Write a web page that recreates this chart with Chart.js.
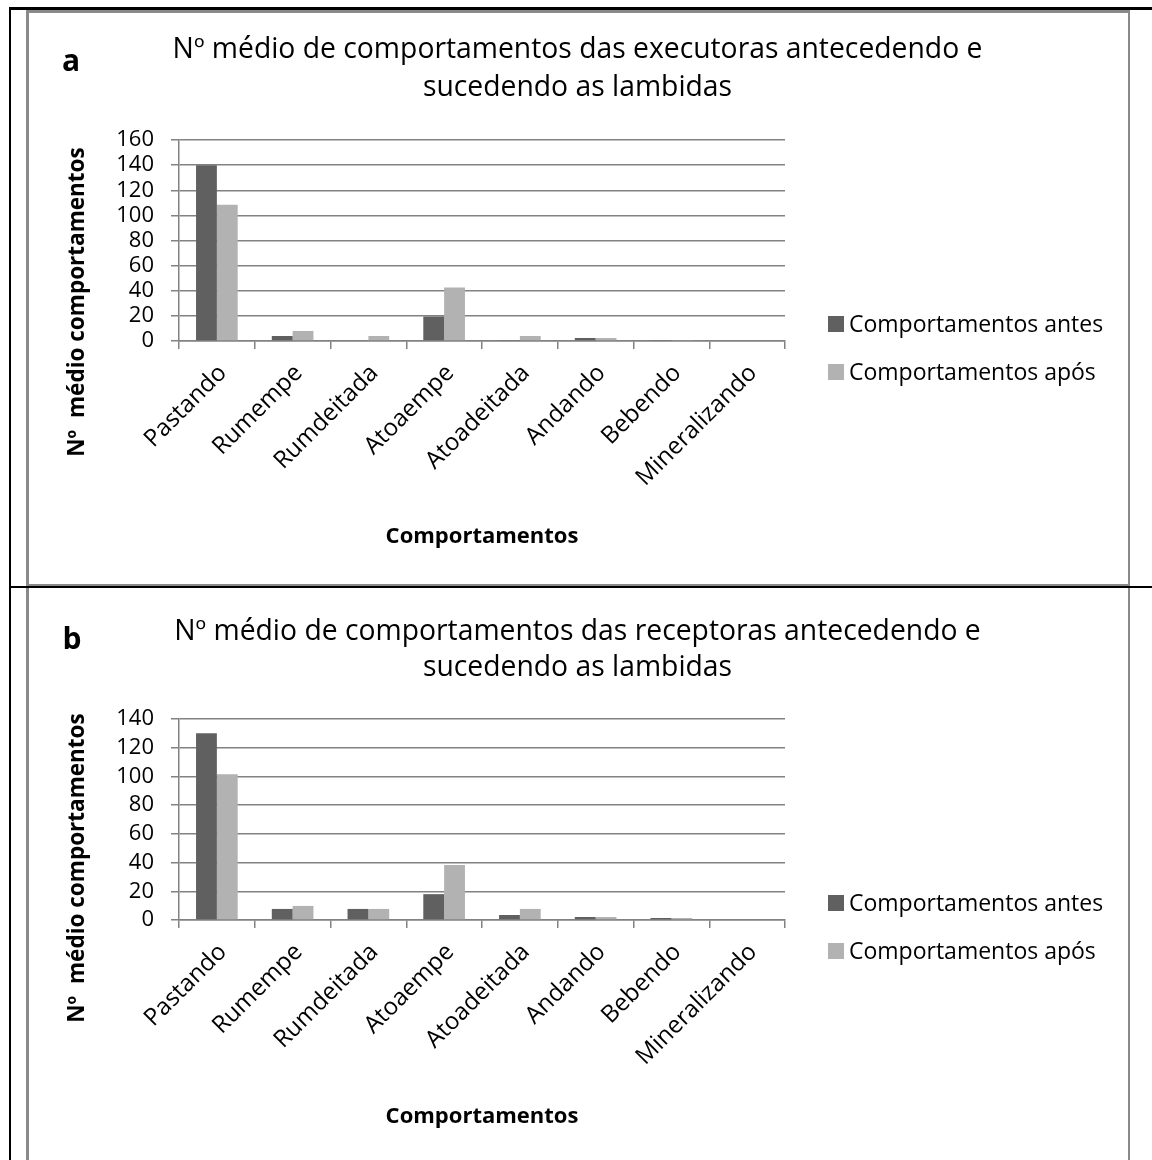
<!DOCTYPE html>
<html lang="pt">
<head>
<meta charset="utf-8">
<title>Nº médio de comportamentos antecedendo e sucedendo as lambidas</title>
<script src="https://cdn.jsdelivr.net/npm/chart.js@4/dist/chart.umd.min.js"></script>
<style>
    body { margin: 0; background: #fff; }
    #page { position: relative; width: 1152px; height: 1160px; overflow: hidden; background: #fff; }
    .rule { position: absolute; background: #000; }
    .box { position: absolute; box-sizing: border-box; border: 0 solid #8a8a8a; }
    .box canvas { position: absolute; left: 0; top: 0; }
</style>
</head>
<body>
<div id="page">
    <div class="box" style="left:26px; top:10px; width:1104px; height:576px; border-width:3px 2px 2px 3px;">
        <canvas id="chartA" width="1099" height="571"></canvas>
    </div>
    <div class="box" style="left:26px; top:588px; width:1104px; height:572px; border-width:0 2px 0 3px;">
        <canvas id="chartB" width="1099" height="572"></canvas>
    </div>
    <div class="rule" style="left:9px; top:7px; width:1143px; height:3px;"></div>
    <div class="rule" style="left:9px; top:7px; width:2px; height:1153px;"></div>
    <div class="rule" style="left:9px; top:586px; width:1143px; height:2px;"></div>
</div>
<script>
// Categories and series names shared by both panels
const categories = ['Pastando', 'Rumempe', 'Rumdeitada', 'Atoaempe', 'Atoadeitada', 'Andando', 'Bebendo', 'Mineralizando'];
const seriesNames = ['Comportamentos antes', 'Comportamentos após'];

// Panel a: executoras
const executorasAntes = [140, 4, 0, 19.5, 0.8, 2.4, 0.8, 0];
const executorasApos = [108.5, 8, 4, 42.5, 4, 2.4, 0.8, 0];
const executorasTitle = ['Nº médio de comportamentos das executoras antecedendo e', 'sucedendo as lambidas'];
const executorasYMax = 160;

// Panel b: receptoras
const receptorasAntes = [130, 7.7, 7.7, 18, 3.5, 2.1, 1.4, 0];
const receptorasApos = [101.5, 9.8, 7.7, 38.3, 7.7, 2.1, 1.4, 0];
const receptorasTitle = ['Nº médio de comportamentos das receptoras antecedendo e', 'sucedendo as lambidas'];
const receptorasYMax = 140;

const yStep = 20;
const xTitle = 'Comportamentos';
const yTitle = 'Nº  médio comportamentos';

const FONT = '"Open Sans", "DejaVu Sans", sans-serif';
const GRID = '#828282';
const COLORS = ['#606060', '#b2b2b2'];

/**
 * Draws the panel letter, the two-line title, the rotated y title and the side legend
 */
const panelExtras = {
    id: 'panelExtras',
    afterDraw(chart, args, opts) {
        const ctx = chart.ctx;
        ctx.save();
        ctx.fillStyle = '#000';
        ctx.textBaseline = 'middle';

        // Panel letter
        ctx.textAlign = 'center';
        ctx.font = 'bold 30px ' + FONT;
        ctx.fillText(opts.letter, opts.letterX, opts.letterY);

        // Title, centred on the whole panel (not only on the plot)
        ctx.font = '28.3px ' + FONT;
        opts.title.forEach((line, i) => {
            ctx.fillText(line, chart.width / 2 - 1, opts.titleY + i * opts.titleGap);
        });

        // Legend
        ctx.textAlign = 'left';
        ctx.font = '23px ' + FONT;
        chart.data.datasets.forEach((ds, i) => {
            const y = opts.legendY + i * 48;
            ctx.fillStyle = ds.backgroundColor;
            ctx.fillRect(opts.legendX, y - 8, 16, 16);
            ctx.fillStyle = '#000';
            ctx.fillText(ds.label, opts.legendX + 21, y + 1);
        });

        // Y axis title
        ctx.translate(opts.yTitleX, opts.yTitleY);
        ctx.rotate(-Math.PI / 2);
        ctx.textAlign = 'center';
        ctx.font = 'bold 22.5px ' + FONT;
        ctx.fillText(yTitle, 0, 0);
        ctx.restore();
    }
};

/**
 * Build one grouped bar panel
 */
function createPanel(canvasId, antes, apos, yMax, layoutOpts) {
    const ctx = document.getElementById(canvasId).getContext('2d');
    return new Chart(ctx, {
        type: 'bar',
        data: {
            labels: categories,
            datasets: [
                { label: seriesNames[0], data: antes, backgroundColor: COLORS[0] },
                { label: seriesNames[1], data: apos, backgroundColor: COLORS[1] }
            ]
        },
        options: {
            responsive: false,
            animation: false,
            devicePixelRatio: 1,
            categoryPercentage: 0.55,
            barPercentage: 1.0,
            layout: { padding: { left: 0, right: 343, top: layoutOpts.plotTop, bottom: 0 } },
            plugins: {
                legend: { display: false },
                tooltip: { enabled: false },
                title: { display: false },
                panelExtras: layoutOpts.extras
            },
            scales: {
                x: {
                    afterFit(scale) { scale.height = layoutOpts.xHeight; },
                    grid: { display: true, drawOnChartArea: false, drawTicks: true, tickLength: 8, color: GRID, lineWidth: 1.5, offset: true },
                    border: { display: true, color: GRID, width: 1.5 },
                    ticks: {
                        autoSkip: false, minRotation: 45, maxRotation: 45,
                        color: '#000', padding: 10, labelOffset: 6,
                        font: { family: FONT, size: 24 }
                    },
                    title: {
                        display: true, text: xTitle, color: '#000',
                        font: { family: FONT, size: 22, weight: 'bold', lineHeight: 1.2 },
                        padding: { top: 0, bottom: layoutOpts.xTitleBottom }
                    }
                },
                y: {
                    min: 0, max: yMax,
                    afterFit(scale) { scale.width = 150; },
                    grid: { color: GRID, lineWidth: 1.5, tickLength: 8 },
                    border: { display: true, color: GRID, width: 1.5 },
                    ticks: {
                        stepSize: yStep, autoSkip: false, color: '#000', padding: 17,
                        font: { family: FONT, size: 22, lineHeight: 1 }
                    }
                }
            }
        },
        plugins: [panelExtras]
    });
}

Promise.all([
    document.fonts.load('28px "Open Sans"'),
    document.fonts.load('bold 22px "Open Sans"')
]).catch(() => null).then(() => {
    createPanel('chartA', executorasAntes, executorasApos, executorasYMax, {
        plotTop: 127, xHeight: 243, xTitleBottom: 34,
        extras: {
            letter: 'a', letterX: 42, letterY: 49,
            title: executorasTitle, titleY: 37, titleGap: 38,
            yTitleX: 49, yTitleY: 289, legendX: 799, legendY: 311
        }
    });
    createPanel('chartB', receptorasAntes, receptorasApos, receptorasYMax, {
        plotTop: 131, xHeight: 240, xTitleBottom: 30,
        extras: {
            letter: 'b', letterX: 43, letterY: 52,
            title: receptorasTitle, titleY: 44, titleGap: 36,
            yTitleX: 49, yTitleY: 280, legendX: 799, legendY: 315
        }
    });
});
</script>
</body>
</html>
